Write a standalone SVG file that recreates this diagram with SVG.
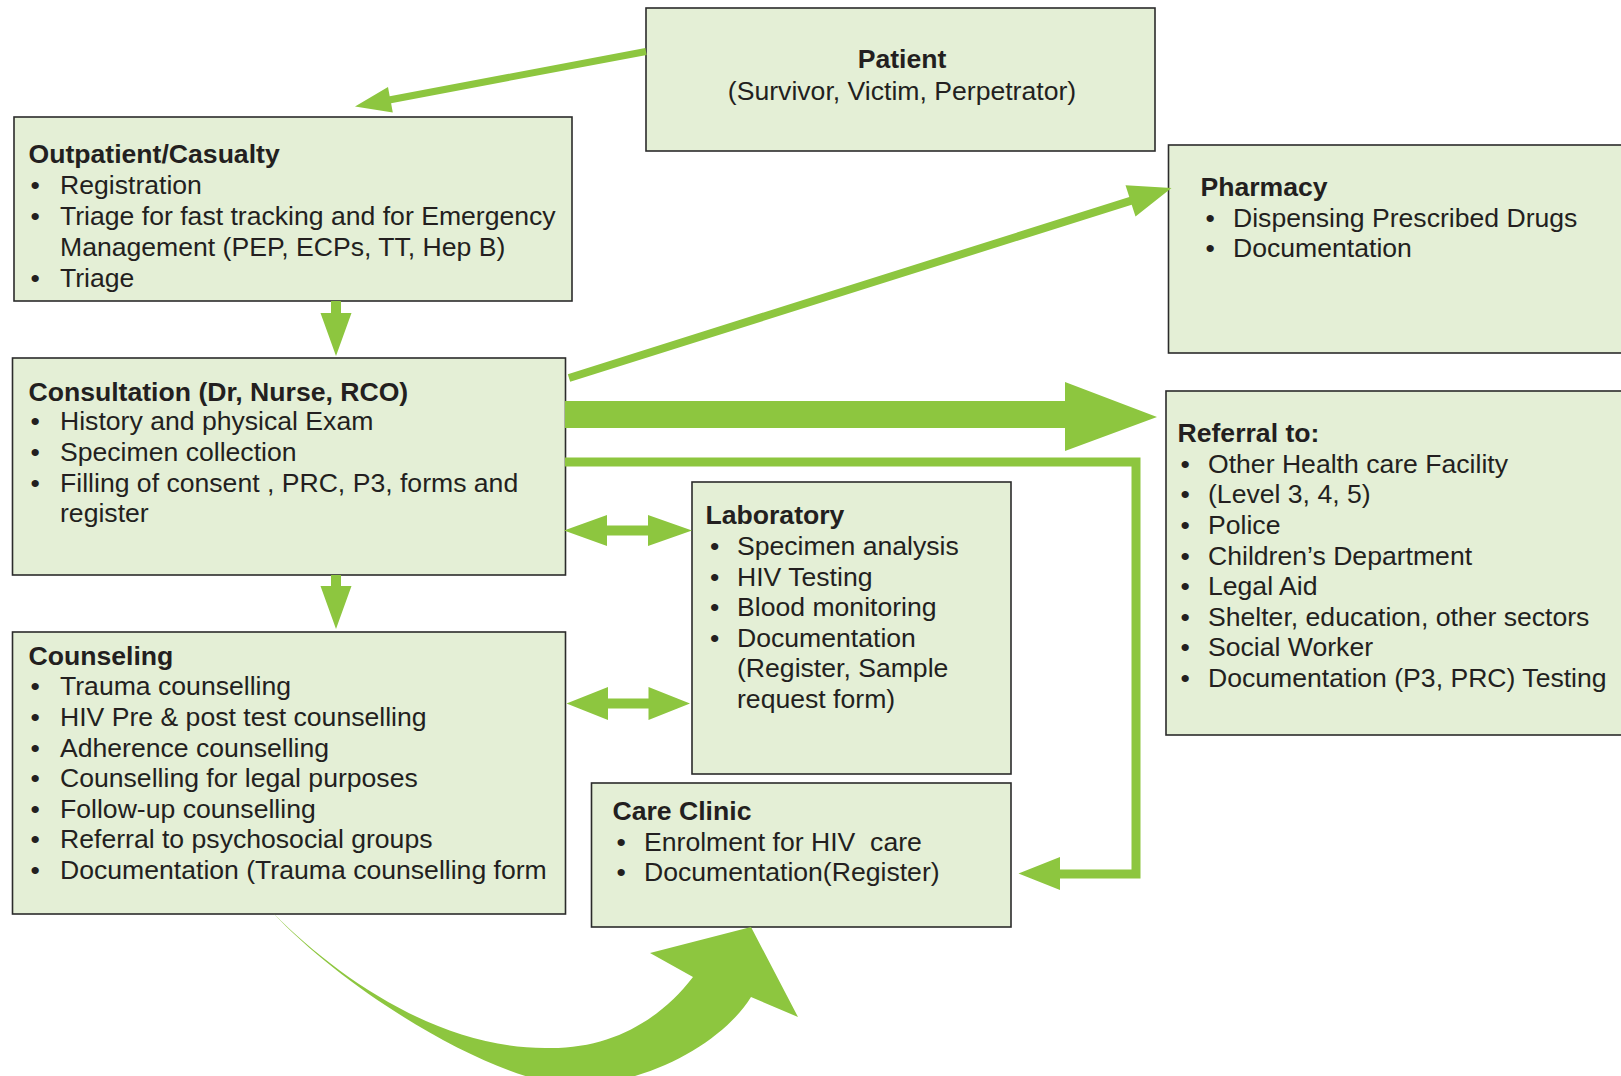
<svg xmlns="http://www.w3.org/2000/svg" width="1621" height="1076" viewBox="0 0 1621 1076">
<style>
.box{fill:#e4efd6;stroke:#2b2b2b;stroke-width:1.6}
text{font-family:"Liberation Sans",Arial,Helvetica,sans-serif;font-size:26.6px;fill:#231f20}
.t{font-weight:bold}
.arr{fill:#8dc63f;stroke:none}
</style>
<rect width="1621" height="1076" fill="#ffffff"/>

<g id="patient">
<rect class="box" x="646" y="8" width="509" height="143"/>
<text class="t" x="902" y="68" text-anchor="middle">Patient</text>
<text x="902" y="100" text-anchor="middle">(Survivor, Victim, Perpetrator)</text>
</g>

<g id="outpatient">
<rect class="box" x="14" y="117" width="558" height="184"/>
<text class="t" x="28.5" y="163">Outpatient/Casualty</text>
<text x="30.5" y="194">•</text><text x="60" y="194">Registration</text>
<text x="30.5" y="225">•</text><text x="60" y="225">Triage for fast tracking and for Emergency</text>
<text x="60" y="256">Management (PEP, ECPs, TT, Hep B)</text>
<text x="30.5" y="287">•</text><text x="60" y="287">Triage</text>
</g>

<g id="consultation">
<rect class="box" x="12.5" y="358" width="553" height="217"/>
<text class="t" x="28.5" y="401">Consultation (Dr, Nurse, RCO)</text>
<text x="30.5" y="430">•</text><text x="60" y="430">History and physical Exam</text>
<text x="30.5" y="461">•</text><text x="60" y="461">Specimen collection</text>
<text x="30.5" y="492">•</text><text x="60" y="492">Filling of consent , PRC, P3, forms and</text>
<text x="60" y="522">register</text>
</g>

<g id="counseling">
<rect class="box" x="12.5" y="632" width="553" height="282"/>
<text class="t" x="28.5" y="665">Counseling</text>
<text x="30.5" y="695">•</text><text x="60" y="695">Trauma counselling</text>
<text x="30.5" y="726">•</text><text x="60" y="726">HIV Pre &amp; post test counselling</text>
<text x="30.5" y="757">•</text><text x="60" y="757">Adherence counselling</text>
<text x="30.5" y="787">•</text><text x="60" y="787">Counselling for legal purposes</text>
<text x="30.5" y="818">•</text><text x="60" y="818">Follow-up counselling</text>
<text x="30.5" y="848">•</text><text x="60" y="848">Referral to psychosocial groups</text>
<text x="30.5" y="879">•</text><text x="60" y="879">Documentation (Trauma counselling form</text>
</g>

<g id="laboratory">
<rect class="box" x="692" y="482" width="319" height="292"/>
<text class="t" x="705.5" y="524">Laboratory</text>
<text x="710" y="555">•</text><text x="737" y="555">Specimen analysis</text>
<text x="710" y="586">•</text><text x="737" y="586">HIV Testing</text>
<text x="710" y="616">•</text><text x="737" y="616">Blood monitoring</text>
<text x="710" y="647">•</text><text x="737" y="647">Documentation</text>
<text x="737" y="677">(Register, Sample</text>
<text x="737" y="708">request form)</text>
</g>

<g id="care-clinic">
<rect class="box" x="591.5" y="783" width="419.5" height="144"/>
<text class="t" x="612.5" y="820">Care Clinic</text>
<text x="616.5" y="851">•</text><text x="644" y="851" xml:space="preserve">Enrolment for HIV  care</text>
<text x="616.5" y="881">•</text><text x="644" y="881">Documentation(Register)</text>
</g>

<g id="pharmacy">
<rect class="box" x="1168.5" y="145" width="470" height="208"/>
<text class="t" x="1200.5" y="196">Pharmacy</text>
<text x="1205.5" y="227">•</text><text x="1233" y="227">Dispensing Prescribed Drugs</text>
<text x="1205.5" y="257">•</text><text x="1233" y="257">Documentation</text>
</g>

<g id="referral">
<rect class="box" x="1166" y="391" width="470" height="344"/>
<text class="t" x="1177.5" y="442">Referral to:</text>
<text x="1180.5" y="473">•</text><text x="1208" y="473">Other Health care Facility</text>
<text x="1180.5" y="503">•</text><text x="1208" y="503">(Level 3, 4, 5)</text>
<text x="1180.5" y="534">•</text><text x="1208" y="534">Police</text>
<text x="1180.5" y="565">•</text><text x="1208" y="565">Children’s Department</text>
<text x="1180.5" y="595">•</text><text x="1208" y="595">Legal Aid</text>
<text x="1180.5" y="626">•</text><text x="1208" y="626">Shelter, education, other sectors</text>
<text x="1180.5" y="656">•</text><text x="1208" y="656">Social Worker</text>
<text x="1180.5" y="687">•</text><text x="1208" y="687">Documentation (P3, PRC) Testing</text>
</g>

<g id="connectors">
<path class="arr" d="M645.3,48.1 L389.7,96.3 L388,87 L355,106.5 L392.8,112.5 L391.1,103.2 L646.7,54.9 Z"/>
<path class="arr" d="M331,301 L341,301 L341,313 L351.5,313 L336,356 L320.5,313 L331,313 Z"/>
<path class="arr" d="M331,575 L341,575 L341,586 L351.5,586 L336,629 L320.5,586 L331,586 Z"/>
<path class="arr" d="M567.8,374.2 L1129.3,197.1 L1125.5,185.2 L1171.5,188 L1135.5,216.6 L1131.7,204.7 L570.2,381.8 Z"/>
<path class="arr" d="M565,401 L1065,401 L1065,382 L1157,417 L1065,451 L1065,428 L565,428 Z"/>
<path class="arr" d="M565,457.5 L1140.5,457.5 L1140.5,878.5 L1060,878.5 L1060,890 L1018.5,873.5 L1060,857 L1060,869.5 L1131.5,869.5 L1131.5,466.5 L565,466.5 Z"/>
<path class="arr" d="M564,530.5 L607,515 L607,525.5 L648,525.5 L648,515 L692,530.5 L648,546 L648,535.5 L607,535.5 L607,546 Z"/>
<path class="arr" d="M566.5,703.5 L608,687 L608,698.5 L648.5,698.5 L648.5,687 L690,703.5 L648.5,720 L648.5,708.5 L608,708.5 L608,720 Z"/>
<path class="arr" d="M273,913 C340,980 440,1048 545,1048 C610,1050 660,1020 693,977 L650,953 L751,927 L798,1017 L751,997 C725,1040 650,1085 575,1085 C500,1085 350,995 273,913 Z"/>
</g>
</svg>
